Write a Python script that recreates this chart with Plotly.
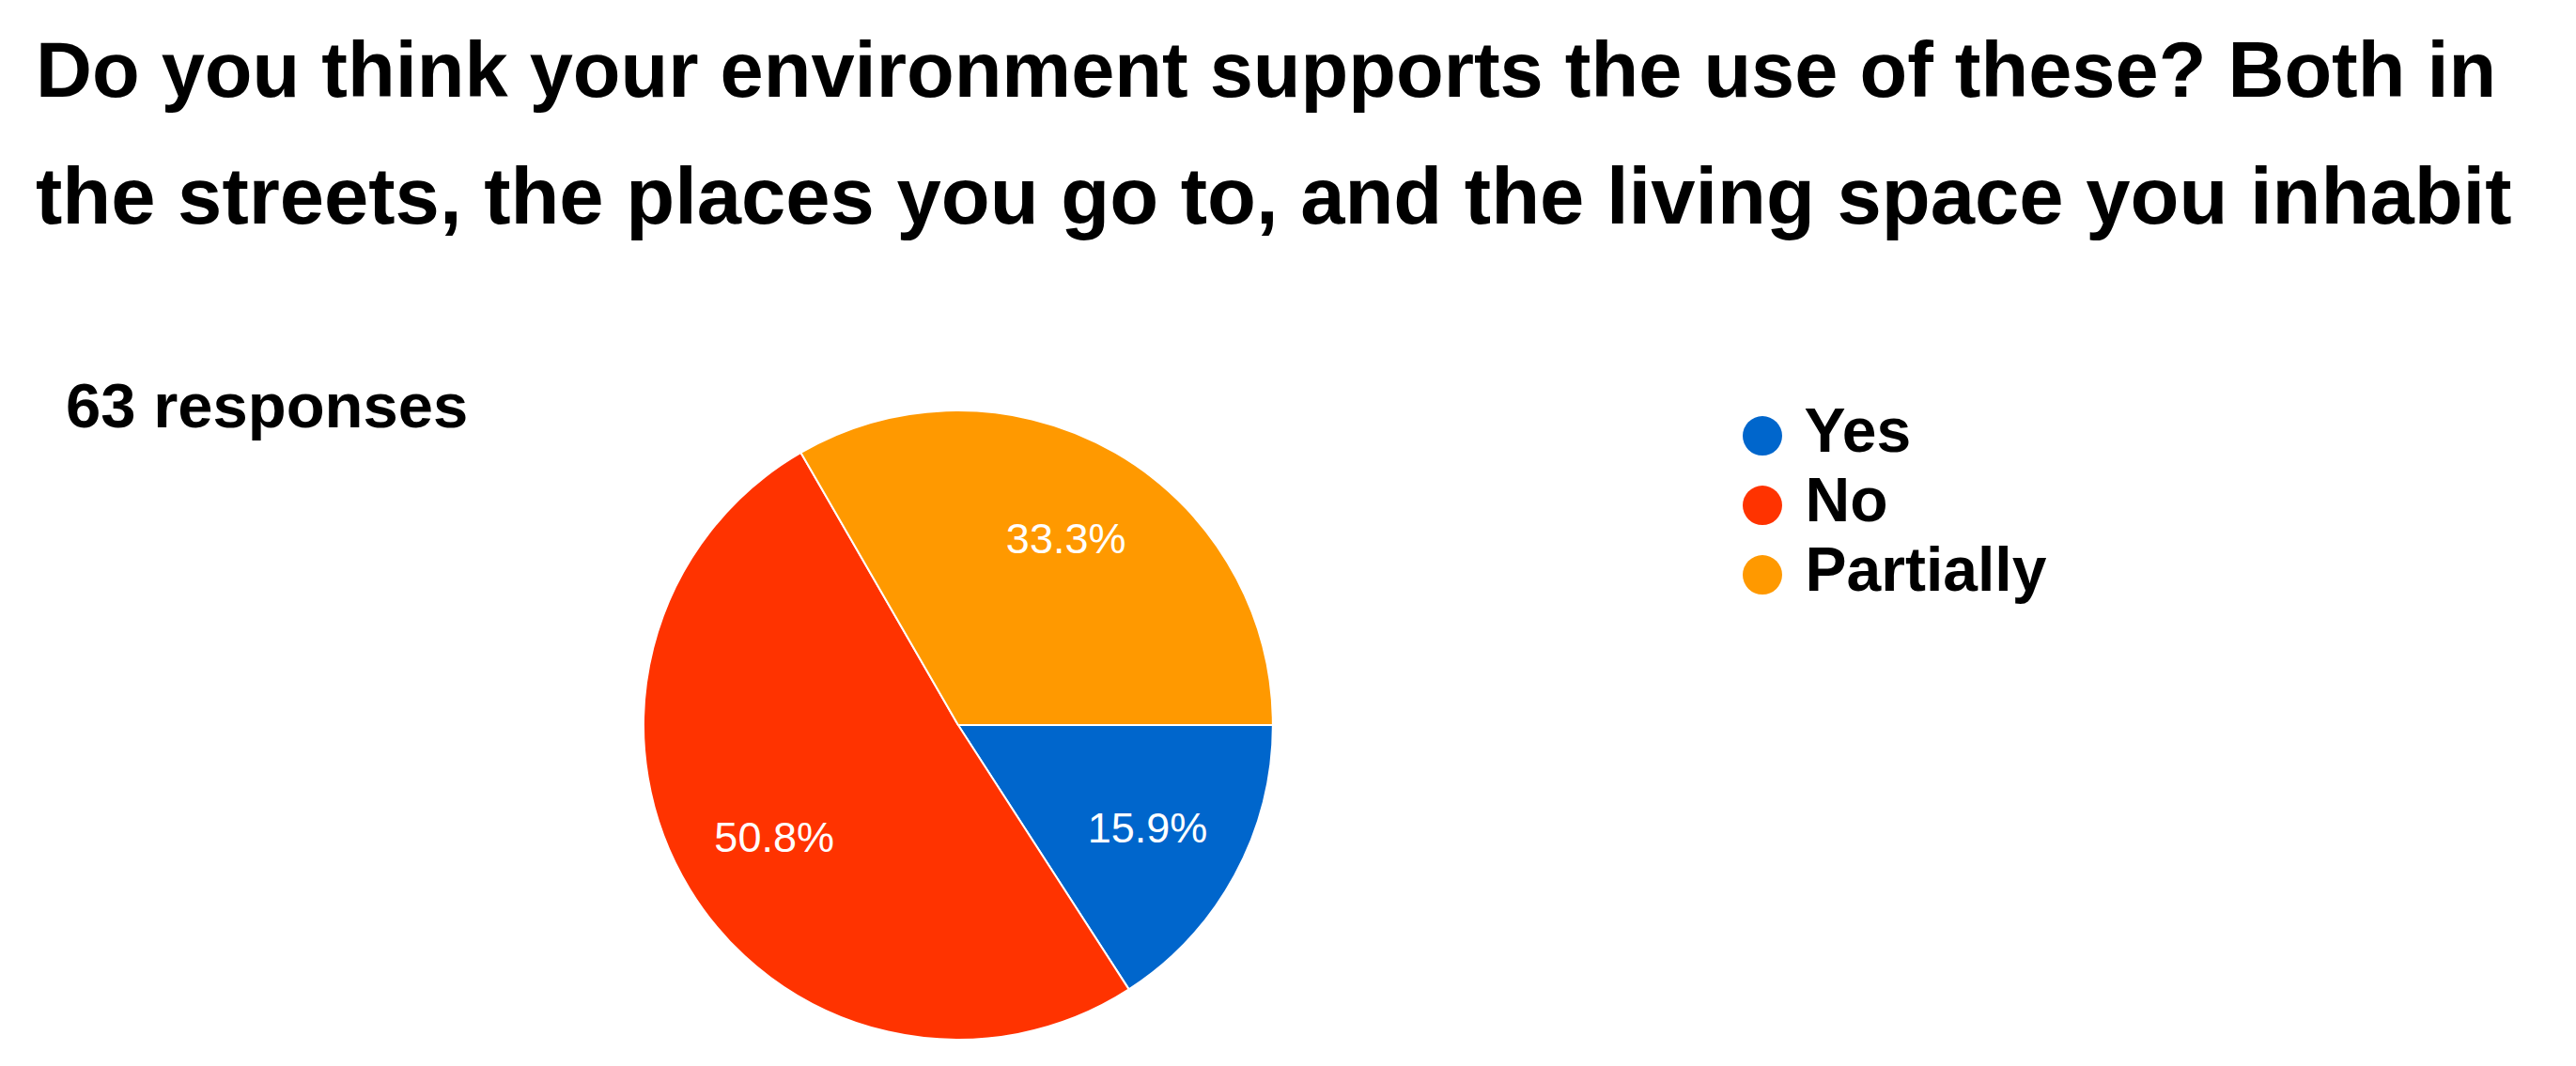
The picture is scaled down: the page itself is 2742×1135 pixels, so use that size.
import plotly.graph_objects as go

# ---- data ----
categories = ["Yes", "No", "Partially"]
counts = [10, 32, 21]          # out of 63 responses -> 15.9%, 50.8%, 33.3%
colors = ["#0066CC", "#FF3300", "#FF9900"]
title_lines = [
    "Do you think your environment supports the use of these? Both in",
    "the streets, the places you go to, and the living space you inhabit",
]
subtitle = f"{sum(counts)} responses"

W, H = 2742, 1135
FONT = "Liberation Sans, Arial, sans-serif"
PIE_DOMAIN = dict(x=[0.2469, 0.4912], y=[0.0317, 0.6220])

fig = go.Figure()

# the pie itself
fig.add_trace(go.Pie(
    labels=categories,
    values=counts,
    sort=False,
    direction="clockwise",
    rotation=90,
    marker=dict(colors=colors, line=dict(color="white", width=2)),
    textinfo="none",
    domain=PIE_DOMAIN,
    showlegend=False,
    hoverinfo="label+percent",
))

# transparent overlay used only to place the percentage labels further out
fig.add_trace(go.Pie(
    labels=categories,
    values=counts,
    sort=False,
    direction="clockwise",
    rotation=90,
    hole=0.37,
    marker=dict(colors=["rgba(0,0,0,0)"] * len(categories), line=dict(width=0)),
    texttemplate="%{percent:.1%}",
    textposition="inside",
    insidetextorientation="horizontal",
    insidetextfont=dict(color="white", size=45, family=FONT),
    domain=PIE_DOMAIN,
    showlegend=False,
    hoverinfo="skip",
))

# custom legend with large circular markers
fig.add_trace(go.Scatter(
    x=[0] * len(categories),
    y=list(range(len(categories))),
    mode="markers+text",
    text=[" " + c for c in categories],
    textposition="middle right",
    textfont=dict(size=66, color="black", family=FONT, weight="bold"),
    marker=dict(size=42, color=colors, line=dict(width=0)),
    cliponaxis=False,
    showlegend=False,
    hoverinfo="skip",
))

fig.update_xaxes(domain=[0.66, 1.0], range=[-1, 15], visible=False, fixedrange=True)
fig.update_yaxes(domain=[0.4352, 0.6308], range=[2.5, -0.5], visible=False, fixedrange=True)

annotations = []
title_sizes = [83, 85]
title_y = [67, 200]
for line, fs, yy in zip(title_lines, title_sizes, title_y):
    annotations.append(dict(
        text=line, xref="paper", yref="paper",
        x=28 / W, y=1 - yy / H,
        xanchor="left", yanchor="middle", showarrow=False,
        font=dict(size=fs, color="black", family=FONT, weight="bold"),
    ))
annotations.append(dict(
    text=subtitle, xref="paper", yref="paper",
    x=60 / W, y=1 - 423 / H,
    xanchor="left", yanchor="middle", showarrow=False,
    font=dict(size=67, color="black", family=FONT, weight="bold"),
))

fig.update_layout(
    width=W, height=H,
    margin=dict(l=0, r=0, t=0, b=0),
    paper_bgcolor="white",
    plot_bgcolor="white",
    annotations=annotations,
)

fig.write_html("out.html")
